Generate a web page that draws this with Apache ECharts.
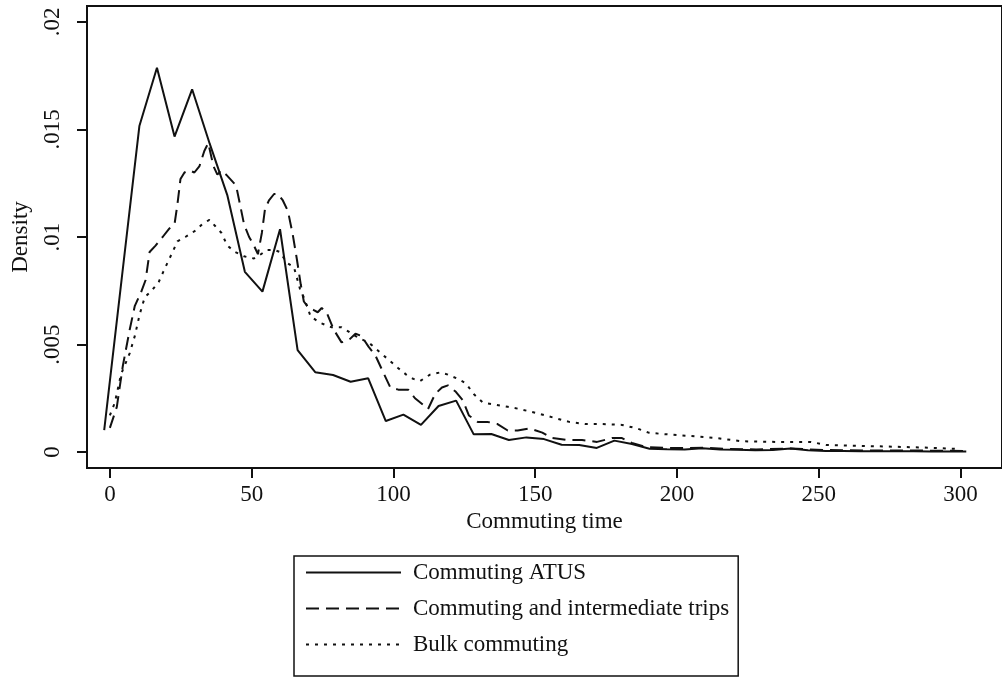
<!DOCTYPE html>
<html>
<head>
<meta charset="utf-8">
<script src="https://cdn.jsdelivr.net/npm/echarts@6/dist/echarts.min.js"></script>
<style>
  html, body { margin: 0; padding: 0; background: #fff; }
  #chart { width: 1002px; height: 679px; }
</style>
</head>
<body>
<div id="chart"></div>
<script>
// ---- Data ----
const seriesNames = ["Commuting ATUS", "Commuting and intermediate trips", "Bulk commuting"];
const xTicks = [0, 50, 100, 150, 200, 250, 300];
const yTicks = [0, 0.005, 0.01, 0.015, 0.02];

// Commuting ATUS (kernel density evaluation points)
const atusX = [-2, 4.2, 10.4, 16.6, 22.8, 29.0, 35.2, 41.4, 47.6, 53.8, 60.0, 66.2, 72.4, 78.7, 84.9,
  91.1, 97.3, 103.5, 109.7, 115.9, 122.1, 128.3, 134.5, 140.7, 146.9, 153.1, 159.3, 165.5, 171.7,
  177.9, 184.1, 190.3, 196.5, 202.7, 208.9, 215.2, 221.4, 227.6, 233.8, 240.0, 246.2, 252.4, 258.6,
  264.8, 271.0, 277.2, 283.4, 289.6, 295.8, 302.0];
const atusY = [0.00102, 0.0081, 0.01516, 0.01787, 0.01467, 0.01687, 0.01434, 0.01195, 0.00838, 0.00746,
  0.01036, 0.00474, 0.00371, 0.00358, 0.00327, 0.00343, 0.00144, 0.00174, 0.00126, 0.00214, 0.00239,
  0.00082, 0.00084, 0.00056, 0.00068, 0.0006, 0.00034, 0.00033, 0.00019, 0.00053, 0.00037, 0.00015,
  0.00013, 0.00012, 0.00018, 0.00012, 0.0001, 0.00008, 0.00009, 0.00016, 0.00008, 0.00005, 0.00005,
  0.00004, 0.00004, 0.00003, 0.00003, 0.00002, 0.00002, 0.00002];

// Commuting and intermediate trips
const tripsX = [0, 2.45, 4.56, 7.0, 8.8, 10.9, 12.6, 14.0, 16.1, 18.6, 21.0, 22.8, 23.8, 24.9, 26.3, 28.0,
  29.8, 31.6, 33.3, 34.7, 36.5, 37.9, 39.3, 41.0, 43.1, 44.5, 45.9, 47.3, 49.1, 50.8, 52.2, 53.6, 54.7,
  56.1, 57.9, 59.3, 61.0, 62.8, 64.5, 65.9, 67.3, 68.4, 70.1, 71.9, 73.3, 74.7, 76.4, 78.9, 81.7, 84.2,
  86.6, 88.7, 91.2, 93.6, 96.4, 98.9, 101.7, 105.2, 107.6, 110.4, 112.2, 114.7, 117.1, 119.2, 122.0,
  124.5, 126.6, 129.7, 133.2, 136.7, 140.3, 143.8, 148.0, 152.5, 156.0, 161.3, 166.5, 171.8, 177.1,
  180.6, 184.1, 189.3, 196.4, 203.4, 210.4, 217.4, 227.9, 240.2, 252.5, 266.5, 284.0, 301.5];
const tripsY = [0.00112, 0.0021, 0.0040, 0.0057, 0.0068, 0.0074, 0.0080, 0.0093, 0.0096, 0.0100, 0.0104,
  0.0106, 0.0115, 0.0127, 0.0130, 0.0131, 0.0130, 0.0133, 0.0140, 0.01437, 0.0133, 0.0129, 0.0131,
  0.0129, 0.0126, 0.0124, 0.0115, 0.0106, 0.0100, 0.0096, 0.0092, 0.0102, 0.0113, 0.0117, 0.0120,
  0.0120, 0.0117, 0.0112, 0.0101, 0.0090, 0.0078, 0.0070, 0.0067, 0.0066, 0.0065, 0.0067, 0.0065,
  0.0057, 0.0051, 0.0052, 0.0055, 0.0054, 0.0049, 0.0045, 0.0037, 0.0030, 0.0029, 0.0029, 0.0025,
  0.0022, 0.0020, 0.0027, 0.0030, 0.0031, 0.0028, 0.0024, 0.0017, 0.0014, 0.0014, 0.0013, 0.0010,
  0.0010, 0.0011, 0.0009, 0.00065, 0.00056, 0.00056, 0.00047, 0.00065, 0.00065, 0.00042, 0.00023,
  0.00019, 0.00019, 0.0002, 0.00014, 0.00012, 0.00016, 0.00009, 0.00007, 0.00007, 0.00005];

// Bulk commuting
const bulkX = [0, 1.75, 3.9, 7.0, 8.8, 10.5, 12.3, 14.7, 17.2, 18.9, 20.3, 22.1, 23.8, 26.6, 30.2, 32.6,
  35.1, 37.2, 39.3, 41.4, 44.2, 47.3, 50.8, 53.3, 55.4, 57.9, 60.0, 62.4, 64.9, 67.0, 68.7, 70.8, 74.3,
  78.2, 81.7, 84.2, 87.7, 91.2, 94.7, 98.2, 101.7, 104.5, 107.0, 109.4, 112.9, 116.4, 119.2, 122.7,
  125.5, 128.3, 131.5, 136.0, 140.3, 144.5, 150.8, 156.4, 162.0, 167.6, 173.6, 180.6, 185.8, 190.0,
  194.6, 205.1, 213.9, 222.7, 234.9, 247.2, 252.5, 266.5, 280.5, 291.0, 299.4];
const bulkY = [0.0017, 0.0023, 0.0036, 0.0046, 0.0054, 0.0064, 0.0072, 0.0075, 0.0079, 0.0084, 0.0088,
  0.0093, 0.0098, 0.0100, 0.0103, 0.0106, 0.0108, 0.0105, 0.0102, 0.0096, 0.0093, 0.0091, 0.0090,
  0.0092, 0.0094, 0.0094, 0.0093, 0.0088, 0.0086, 0.0076, 0.0071, 0.0063, 0.0060, 0.0058, 0.0058,
  0.0056, 0.0053, 0.0051, 0.0047, 0.0043, 0.0039, 0.0036, 0.0034, 0.0033, 0.0036, 0.0037, 0.0036,
  0.0034, 0.0032, 0.0027, 0.0023, 0.0022, 0.0021, 0.0020, 0.0018, 0.0016, 0.0014, 0.0013, 0.0013,
  0.00126, 0.0011, 0.0009, 0.00084, 0.00074, 0.00065, 0.0005, 0.00047, 0.00047, 0.00033, 0.00028,
  0.00023, 0.00019, 0.00014];

function pairs(xs, ys) { return xs.map((x, i) => [x, ys[i]]); }

const FONT = '"Liberation Serif", "DejaVu Serif", serif';
const INK = '#111';

const chart = echarts.init(document.getElementById('chart'), null, { renderer: 'canvas' });
chart.setOption({
  animation: false,
  backgroundColor: '#fff',
  textStyle: { fontFamily: FONT, color: INK },
  grid: {
    left: 87, top: 6, right: -5, bottom: 211,
    show: true, borderColor: INK, borderWidth: 2, backgroundColor: '#fff'
  },
  xAxis: {
    type: 'value',
    min: -8.07, max: 314.6,
    name: 'Commuting time',
    nameLocation: 'middle',
    nameGap: 42,
    nameTextStyle: { fontFamily: FONT, fontSize: 23, color: INK },
    axisLine: { show: true, onZero: false, lineStyle: { color: INK, width: 2 } },
    axisTick: { show: true, customValues: xTicks, length: 10, lineStyle: { color: INK, width: 2 } },
    axisLabel: { customValues: xTicks, margin: 15, fontFamily: FONT, fontSize: 23, color: INK },
    splitLine: { show: false }
  },
  yAxis: {
    type: 'value',
    min: -0.000744, max: 0.020744,
    name: 'Density',
    nameLocation: 'middle',
    nameGap: 55,
    nameTextStyle: { fontFamily: FONT, fontSize: 23, color: INK },
    axisLine: { show: true, onZero: false, lineStyle: { color: INK, width: 2 } },
    axisTick: { show: true, customValues: yTicks, length: 10, lineStyle: { color: INK, width: 2 } },
    axisLabel: {
      customValues: yTicks, rotate: 90, margin: 23,
      fontFamily: FONT, fontSize: 23, color: INK,
      formatter: v => (v === 0 ? '0' : String(v).replace(/^0/, ''))
    },
    splitLine: { show: false }
  },
  legend: {
    data: seriesNames,
    orient: 'vertical',
    left: 294, top: 556,
    itemWidth: 95, itemHeight: 14, itemGap: 13,
    padding: [5, 9, 20, 11],
    borderColor: INK, borderWidth: 1.5,
    itemStyle: { opacity: 0, color: 'rgba(0,0,0,0)', borderWidth: 0 },
    textStyle: { fontFamily: FONT, fontSize: 23, color: INK, lineHeight: 23, padding: [0, 0, 0, 7] },
    selectedMode: false
  },
  series: [
    {
      name: seriesNames[0], type: 'line', data: pairs(atusX, atusY),
      symbol: 'none', showSymbol: false, smooth: false,
      lineStyle: { color: INK, width: 2, type: 'solid' }, itemStyle: { color: INK }
    },
    {
      name: seriesNames[1], type: 'line', data: pairs(tripsX, tripsY),
      symbol: 'none', showSymbol: false, smooth: false,
      lineStyle: { color: INK, width: 2, type: [13, 7] }, itemStyle: { color: INK }
    },
    {
      name: seriesNames[2], type: 'line', data: pairs(bulkX, bulkY),
      symbol: 'none', showSymbol: false, smooth: false,
      lineStyle: { color: INK, width: 2, type: [3, 6] }, itemStyle: { color: INK }
    }
  ]
});
</script>
</body>
</html>
